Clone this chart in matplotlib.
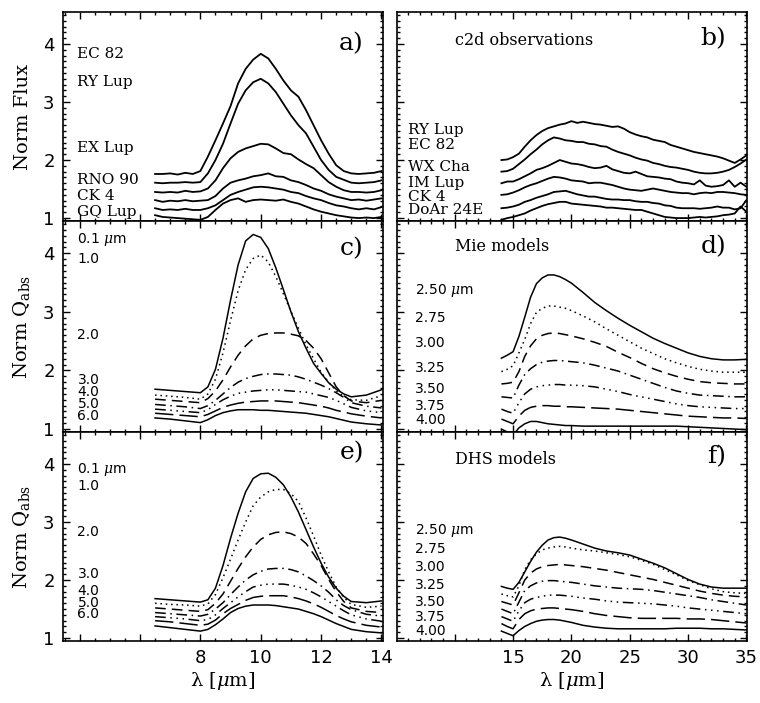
import matplotlib
matplotlib.use('Agg')
import matplotlib.pyplot as plt
from matplotlib.ticker import MultipleLocator, FuncFormatter

plt.rcParams['mathtext.fontset'] = 'dejavuserif'
plt.rcParams['axes.linewidth'] = 1.2

# ---- a) 10 micron observations (normalised flux, offset)
wl_a = [6.5, 6.75, 7.0, 7.25, 7.5, 7.75, 8.0, 8.25, 8.5, 8.75, 9.0, 9.25, 9.5, 9.75,
        10.0, 10.25, 10.5, 10.75, 11.0, 11.25, 11.5, 11.75, 12.0, 12.25, 12.5, 12.75,
        13.0, 13.25, 13.5, 13.75, 14.0]
ec82_a = [1.76, 1.76, 1.77, 1.75, 1.78, 1.76, 1.81, 2.06, 2.34, 2.63, 2.93, 3.32, 3.57, 3.73,
          3.83, 3.75, 3.57, 3.37, 3.20, 3.09, 2.86, 2.60, 2.34, 2.11, 1.91, 1.81,
          1.77, 1.76, 1.77, 1.78, 1.81]
rylup_a = [1.61, 1.60, 1.61, 1.61, 1.62, 1.61, 1.62, 1.77, 2.00, 2.28, 2.63, 2.97, 3.20, 3.34,
           3.40, 3.32, 3.17, 2.97, 2.77, 2.60, 2.46, 2.23, 2.00, 1.83, 1.71, 1.66,
           1.61, 1.60, 1.61, 1.62, 1.65]
exlup_a = [1.45, 1.44, 1.45, 1.44, 1.47, 1.45, 1.46, 1.51, 1.65, 1.86, 2.03, 2.14, 2.20, 2.24,
           2.28, 2.27, 2.20, 2.12, 2.10, 2.01, 1.93, 1.86, 1.74, 1.62, 1.54, 1.48,
           1.45, 1.45, 1.44, 1.45, 1.48]
rno90_a = [1.31, 1.28, 1.30, 1.29, 1.31, 1.29, 1.30, 1.31, 1.38, 1.51, 1.61, 1.65, 1.68, 1.72,
           1.74, 1.77, 1.72, 1.71, 1.65, 1.62, 1.57, 1.51, 1.47, 1.41, 1.37, 1.34,
           1.31, 1.32, 1.30, 1.32, 1.34]
ck4_a = [1.17, 1.14, 1.15, 1.14, 1.16, 1.14, 1.14, 1.17, 1.22, 1.31, 1.40, 1.45, 1.49, 1.53,
         1.54, 1.53, 1.51, 1.49, 1.45, 1.43, 1.38, 1.34, 1.31, 1.26, 1.22, 1.20,
         1.17, 1.15, 1.17, 1.15, 1.19]
gqlup_a = [1.05, 1.02, 1.01, 1.00, 0.99, 0.98, 0.97, 1.02, 1.14, 1.25, 1.31, 1.34, 1.28, 1.31,
           1.32, 1.31, 1.30, 1.32, 1.28, 1.25, 1.20, 1.15, 1.11, 1.08, 1.05, 1.03,
           1.01, 1.00, 1.01, 1.00, 1.02]
names_a = ['EC 82', 'RY Lup', 'EX Lup', 'RNO 90', 'CK 4', 'GQ Lup']

# ---- b) c2d 20 micron observations
wl_b = [14.0, 14.5, 15.0, 15.5, 16.0, 16.5, 17.0, 17.5, 18.0, 18.5, 19.0, 19.5, 20.0, 20.5,
        21.0, 21.5, 22.0, 22.5, 23.0, 23.5, 24.0, 24.5, 25.0, 25.5, 26.0, 26.5, 27.0, 27.5,
        28.0, 28.5, 29.0, 29.5, 30.0, 30.5, 31.0, 31.5, 32.0, 32.5, 33.0, 33.5, 34.0, 34.5, 35.0]
rylup_b = [2.00, 2.01, 2.05, 2.11, 2.23, 2.34, 2.43, 2.50, 2.55, 2.58, 2.61, 2.63, 2.67, 2.64,
           2.66, 2.64, 2.62, 2.61, 2.59, 2.57, 2.58, 2.54, 2.48, 2.44, 2.41, 2.39, 2.35, 2.33,
           2.31, 2.26, 2.23, 2.20, 2.17, 2.14, 2.12, 2.10, 2.08, 2.06, 2.03, 1.99, 1.95, 2.01, 2.08]
ec82_b = [1.80, 1.81, 1.85, 1.93, 2.01, 2.10, 2.18, 2.27, 2.34, 2.39, 2.37, 2.34, 2.33, 2.31,
          2.31, 2.28, 2.27, 2.24, 2.23, 2.18, 2.14, 2.11, 2.08, 2.04, 2.01, 1.99, 1.95, 1.93,
          1.90, 1.88, 1.87, 1.85, 1.83, 1.80, 1.78, 1.77, 1.77, 1.78, 1.80, 1.83, 1.88, 1.94, 2.01]
wxcha_b = [1.60, 1.63, 1.63, 1.67, 1.72, 1.77, 1.83, 1.86, 1.90, 1.95, 2.00, 1.97, 1.94, 1.93,
           1.91, 1.88, 1.86, 1.87, 1.90, 1.84, 1.81, 1.78, 1.77, 1.80, 1.76, 1.72, 1.71, 1.70,
           1.68, 1.67, 1.63, 1.61, 1.60, 1.58, 1.65, 1.56, 1.54, 1.55, 1.57, 1.65, 1.54, 1.61, 1.54]
imlup_b = [1.40, 1.41, 1.44, 1.48, 1.53, 1.57, 1.60, 1.64, 1.68, 1.71, 1.70, 1.68, 1.65, 1.64,
           1.63, 1.60, 1.61, 1.61, 1.59, 1.57, 1.54, 1.51, 1.49, 1.48, 1.47, 1.49, 1.51, 1.49,
           1.47, 1.45, 1.44, 1.43, 1.43, 1.41, 1.43, 1.44, 1.43, 1.45, 1.45, 1.44, 1.43, 1.41, 1.40]
ck4_b = [1.17, 1.18, 1.20, 1.23, 1.28, 1.31, 1.35, 1.38, 1.41, 1.45, 1.46, 1.47, 1.44, 1.41,
         1.39, 1.37, 1.37, 1.35, 1.33, 1.32, 1.32, 1.31, 1.31, 1.29, 1.28, 1.28, 1.26, 1.25,
         1.22, 1.21, 1.18, 1.17, 1.17, 1.17, 1.16, 1.17, 1.18, 1.20, 1.18, 1.18, 1.15, 1.17, 1.31]
doar24e_b = [0.97, 1.00, 1.02, 1.05, 1.08, 1.13, 1.17, 1.21, 1.24, 1.26, 1.28, 1.28, 1.25, 1.24,
             1.23, 1.22, 1.21, 1.20, 1.18, 1.18, 1.17, 1.16, 1.15, 1.14, 1.14, 1.11, 1.08, 1.05,
             1.02, 1.01, 1.00, 1.00, 1.00, 1.01, 1.02, 1.01, 1.02, 1.03, 1.05, 1.06, 1.08, 1.20, 1.11]
names_b = ['RY Lup', 'EC 82', 'WX Cha', 'IM Lup', 'CK 4', 'DoAr 24E']

# ---- c) / e) 10 micron models, grain sizes 0.1 ... 6.0 um
wl_c = [6.5, 7.0, 7.5, 8.0, 8.25, 8.5, 8.75, 9.0, 9.25, 9.5, 9.75, 10.0, 10.25, 10.5,
        10.75, 11.0, 11.25, 11.5, 11.75, 12.0, 12.25, 12.5, 12.75, 13.0, 13.5, 14.0]
mie10 = [
    [1.68, 1.66, 1.64, 1.62, 1.72, 2.02, 2.55, 3.20, 3.80, 4.21, 4.32, 4.27, 4.08, 3.75,
     3.38, 3.00, 2.66, 2.38, 2.12, 1.95, 1.79, 1.68, 1.60, 1.55, 1.58, 1.67],
    [1.58, 1.56, 1.54, 1.51, 1.60, 1.85, 2.30, 2.85, 3.36, 3.72, 3.91, 3.97, 3.85, 3.60,
     3.31, 3.01, 2.72, 2.44, 2.20, 1.97, 1.80, 1.65, 1.56, 1.50, 1.49, 1.57],
    [1.51, 1.49, 1.47, 1.45, 1.52, 1.65, 1.84, 2.06, 2.26, 2.42, 2.54, 2.60, 2.63, 2.64,
     2.64, 2.62, 2.59, 2.51, 2.38, 2.20, 1.96, 1.72, 1.57, 1.48, 1.45, 1.49],
    [1.42, 1.40, 1.38, 1.35, 1.40, 1.49, 1.60, 1.71, 1.80, 1.86, 1.90, 1.93, 1.94, 1.94,
     1.93, 1.92, 1.89, 1.85, 1.80, 1.75, 1.69, 1.62, 1.54, 1.45, 1.39, 1.36],
    [1.34, 1.32, 1.30, 1.28, 1.33, 1.42, 1.50, 1.56, 1.61, 1.63, 1.65, 1.66, 1.67, 1.67,
     1.66, 1.65, 1.64, 1.63, 1.60, 1.57, 1.54, 1.49, 1.43, 1.37, 1.31, 1.28],
    [1.27, 1.25, 1.23, 1.21, 1.25, 1.31, 1.37, 1.41, 1.44, 1.46, 1.47, 1.48, 1.48, 1.48,
     1.47, 1.46, 1.45, 1.43, 1.41, 1.39, 1.36, 1.32, 1.29, 1.26, 1.22, 1.19],
    [1.19, 1.17, 1.14, 1.11, 1.16, 1.23, 1.28, 1.31, 1.33, 1.33, 1.33, 1.32, 1.32, 1.31,
     1.30, 1.29, 1.28, 1.27, 1.25, 1.23, 1.21, 1.18, 1.15, 1.12, 1.09, 1.07],
]
dhs10 = [
    [1.68, 1.66, 1.64, 1.62, 1.66, 1.86, 2.25, 2.72, 3.15, 3.52, 3.75, 3.83, 3.84, 3.77,
     3.64, 3.43, 3.17, 2.87, 2.57, 2.29, 2.05, 1.86, 1.72, 1.63, 1.61, 1.64],
    [1.60, 1.58, 1.57, 1.55, 1.59, 1.75, 2.04, 2.36, 2.69, 3.00, 3.28, 3.43, 3.52, 3.56,
     3.56, 3.49, 3.35, 3.07, 2.76, 2.43, 2.14, 1.88, 1.70, 1.58, 1.53, 1.55],
    [1.52, 1.50, 1.48, 1.46, 1.49, 1.60, 1.76, 1.98, 2.20, 2.40, 2.57, 2.70, 2.78, 2.82,
     2.83, 2.80, 2.74, 2.63, 2.45, 2.25, 2.01, 1.80, 1.63, 1.52, 1.46, 1.44],
    [1.44, 1.42, 1.40, 1.38, 1.41, 1.50, 1.61, 1.75, 1.88, 2.00, 2.09, 2.15, 2.19, 2.20,
     2.20, 2.18, 2.14, 2.07, 1.99, 1.90, 1.79, 1.66, 1.56, 1.49, 1.41, 1.38],
    [1.37, 1.35, 1.33, 1.30, 1.32, 1.40, 1.51, 1.61, 1.71, 1.80, 1.88, 1.91, 1.93, 1.93,
     1.93, 1.91, 1.88, 1.84, 1.78, 1.71, 1.63, 1.55, 1.47, 1.40, 1.33, 1.29],
    [1.30, 1.28, 1.25, 1.22, 1.24, 1.31, 1.42, 1.51, 1.58, 1.65, 1.70, 1.72, 1.73, 1.73,
     1.73, 1.71, 1.68, 1.64, 1.59, 1.53, 1.46, 1.39, 1.33, 1.28, 1.22, 1.19],
    [1.21, 1.18, 1.15, 1.12, 1.15, 1.23, 1.33, 1.44, 1.51, 1.55, 1.57, 1.57, 1.57, 1.56,
     1.54, 1.52, 1.50, 1.46, 1.42, 1.37, 1.31, 1.25, 1.20, 1.15, 1.11, 1.09],
]
sizes10 = ['0.1 $\\mu$m', '1.0', '2.0', '3.0', '4.0', '5.0', '6.0']

# ---- d) / f) 20 micron models, grain sizes 2.50 ... 4.00 um
wl_d = [14.0, 14.5, 15.0, 15.5, 16.0, 16.5, 17.0, 17.5, 18.0, 18.5, 19.0, 19.5, 20.0, 21.0,
        22.0, 23.0, 24.0, 25.0, 26.0, 27.0, 28.0, 29.0, 30.0, 31.0, 32.0, 33.0, 34.0, 35.0]
mie20 = [
    [2.21, 2.26, 2.32, 2.58, 2.91, 3.25, 3.48, 3.58, 3.63, 3.63, 3.60, 3.55, 3.49, 3.33,
     3.16, 3.02, 2.89, 2.77, 2.66, 2.55, 2.46, 2.38, 2.30, 2.24, 2.20, 2.18, 2.18, 2.19],
    [1.98, 2.02, 2.08, 2.30, 2.53, 2.80, 2.99, 3.06, 3.10, 3.10, 3.08, 3.06, 3.02, 2.93,
     2.83, 2.71, 2.60, 2.49, 2.38, 2.29, 2.20, 2.13, 2.07, 2.02, 1.99, 1.97, 1.97, 1.97],
    [1.77, 1.78, 1.80, 1.98, 2.24, 2.42, 2.54, 2.60, 2.63, 2.64, 2.63, 2.61, 2.59, 2.54,
     2.48, 2.41, 2.31, 2.22, 2.12, 2.03, 1.96, 1.90, 1.85, 1.81, 1.79, 1.78, 1.77, 1.77],
    [1.55, 1.54, 1.53, 1.75, 1.93, 2.03, 2.10, 2.14, 2.16, 2.17, 2.17, 2.16, 2.15, 2.13,
     2.09, 2.04, 1.99, 1.92, 1.85, 1.78, 1.71, 1.65, 1.61, 1.58, 1.57, 1.56, 1.55, 1.55],
    [1.34, 1.30, 1.27, 1.45, 1.60, 1.68, 1.72, 1.74, 1.75, 1.76, 1.76, 1.75, 1.75, 1.74,
     1.72, 1.68, 1.64, 1.59, 1.55, 1.51, 1.47, 1.43, 1.40, 1.38, 1.37, 1.36, 1.35, 1.35],
    [1.17, 1.13, 1.09, 1.22, 1.32, 1.37, 1.39, 1.40, 1.40, 1.39, 1.39, 1.38, 1.38, 1.37,
     1.36, 1.35, 1.34, 1.32, 1.30, 1.28, 1.26, 1.24, 1.22, 1.21, 1.20, 1.19, 1.19, 1.18],
    [1.00, 0.95, 0.90, 1.02, 1.09, 1.13, 1.13, 1.11, 1.09, 1.08, 1.07, 1.06, 1.06, 1.05,
     1.05, 1.05, 1.05, 1.05, 1.05, 1.05, 1.05, 1.05, 1.04, 1.03, 1.02, 1.01, 1.00, 0.99],
]
dhs20 = [
    [1.89, 1.86, 1.84, 1.96, 2.14, 2.32, 2.48, 2.60, 2.69, 2.73, 2.74, 2.72, 2.69, 2.62,
     2.55, 2.50, 2.47, 2.43, 2.36, 2.29, 2.21, 2.11, 2.01, 1.93, 1.88, 1.86, 1.86, 1.86],
    [1.76, 1.73, 1.71, 1.90, 2.18, 2.35, 2.45, 2.52, 2.55, 2.57, 2.58, 2.57, 2.55, 2.52,
     2.50, 2.47, 2.44, 2.40, 2.34, 2.27, 2.18, 2.09, 1.99, 1.92, 1.85, 1.80, 1.78, 1.77],
    [1.63, 1.60, 1.57, 1.78, 2.00, 2.12, 2.19, 2.23, 2.25, 2.26, 2.27, 2.26, 2.25, 2.23,
     2.20, 2.17, 2.13, 2.09, 2.05, 2.01, 1.96, 1.91, 1.86, 1.81, 1.77, 1.74, 1.72, 1.71],
    [1.50, 1.46, 1.42, 1.62, 1.82, 1.90, 1.95, 1.98, 1.99, 1.99, 1.98, 1.97, 1.96, 1.93,
     1.90, 1.88, 1.86, 1.85, 1.84, 1.82, 1.79, 1.76, 1.73, 1.70, 1.66, 1.63, 1.60, 1.57],
    [1.37, 1.33, 1.29, 1.47, 1.61, 1.67, 1.70, 1.72, 1.74, 1.74, 1.74, 1.73, 1.72, 1.69,
     1.67, 1.64, 1.62, 1.61, 1.60, 1.59, 1.57, 1.55, 1.52, 1.50, 1.48, 1.46, 1.44, 1.42],
    [1.25, 1.20, 1.16, 1.32, 1.42, 1.47, 1.50, 1.51, 1.52, 1.52, 1.51, 1.50, 1.49, 1.46,
     1.42, 1.39, 1.37, 1.35, 1.34, 1.34, 1.34, 1.34, 1.33, 1.33, 1.32, 1.30, 1.28, 1.26],
    [1.12, 1.08, 1.04, 1.13, 1.20, 1.25, 1.29, 1.31, 1.32, 1.32, 1.31, 1.29, 1.27, 1.22,
     1.19, 1.17, 1.16, 1.16, 1.16, 1.16, 1.16, 1.17, 1.17, 1.17, 1.16, 1.16, 1.15, 1.14],
]
sizes20 = ['2.50 $\\mu$m', '2.75', '3.00', '3.25', '3.50', '3.75', '4.00']

# IDL style linestyles: solid, dotted, dashed, dash-dot, dash-dot-dot-dot, long dash, solid
styles = ['-', (0, (1, 2.5)), (0, (7, 4)), (0, (7, 3, 1, 3)),
          (0, (7, 3, 1, 3, 1, 3, 1, 3)), (0, (12, 4)), '-']

SERIF = 'DejaVu Serif'
SANS = 'DejaVu Sans'

fig = plt.figure(figsize=(7.6, 7.03), dpi=100)
fig.patch.set_facecolor('white')

col_x = [63 / 760, 397 / 760]
col_w = [320 / 760, 350 / 760]
rows = [(12, 221), (221, 432), (432, 641)]


def make_ax(row, col):
    top, bot = rows[row]
    ax = fig.add_axes([col_x[col], 1 - bot / 703, col_w[col], (bot - top) / 703])
    ax.set_ylim(0.95, 4.55)
    ax.yaxis.set_major_locator(MultipleLocator(1))
    ax.yaxis.set_minor_locator(MultipleLocator(0.1))
    if col == 0:
        ax.set_xlim(3.45, 14.05)
        ax.xaxis.set_major_locator(MultipleLocator(2))
        ax.xaxis.set_minor_locator(MultipleLocator(0.5))
        lo = 8
    else:
        ax.set_xlim(5.05, 35.05)
        ax.xaxis.set_major_locator(MultipleLocator(5))
        ax.xaxis.set_minor_locator(MultipleLocator(1))
        lo = 15
    ax.tick_params(which='both', direction='in', top=True, right=True, width=1.0,
                   labelsize=13, pad=6)
    ax.tick_params(which='major', length=5)
    ax.tick_params(which='minor', length=2.5)
    if row == 2:
        ax.xaxis.set_major_formatter(FuncFormatter(lambda v, p: f'{v:g}' if v >= lo - 0.01 else ''))
        ax.set_xlabel('λ [' + r'$\mu$' + 'm]', fontsize=14, family=SERIF, labelpad=2)
    else:
        ax.tick_params(labelbottom=False)
    if col == 1:
        ax.tick_params(labelleft=False)
    for lab in ax.get_xticklabels() + ax.get_yticklabels():
        lab.set_family(SANS)
    return ax


def letter(ax, s, yf):
    ax.text(0.94, yf, s, transform=ax.transAxes, ha='right', va='center',
            fontsize=18, family=SERIF)


# a)
ax = make_ax(0, 0)
for y in [ec82_a, rylup_a, exlup_a, rno90_a, ck4_a, gqlup_a]:
    ax.plot(wl_a, y, color='black', lw=1.3)
for name, yy in zip(names_a, [3.83, 3.34, 2.20, 1.66, 1.38, 1.10]):
    ax.text(3.93, yy, name, ha='left', va='center', fontsize=11, family=SERIF)
ax.set_ylabel('Norm Flux', fontsize=14, family=SERIF, labelpad=8)
letter(ax, 'a)', 0.85)

# b)
ax = make_ax(0, 1)
for y in [rylup_b, ec82_b, wxcha_b, imlup_b, ck4_b, doar24e_b]:
    ax.plot(wl_b, y, color='black', lw=1.3)
for name, yy in zip(names_b, [2.51, 2.26, 1.88, 1.60, 1.37, 1.14]):
    ax.text(6.0, yy, name, ha='left', va='center', fontsize=11, family=SERIF)
ax.text(10.0, 4.06, 'c2d observations', ha='left', va='center', fontsize=11.5, family=SERIF)
letter(ax, 'b)', 0.87)

# c), e)
for row, models, ypos, lab in [(1, mie10, [4.23, 3.91, 2.61, 1.84, 1.63, 1.43, 1.23], 'c)'),
                               (2, dhs10, [3.91, 3.62, 2.83, 2.10, 1.81, 1.61, 1.41], 'e)')]:
    ax = make_ax(row, 0)
    for y, ls in zip(models, styles):
        ax.plot(wl_c, y, color='black', lw=1.1, linestyle=ls)
    for s, yy in zip(sizes10, ypos):
        ax.text(3.93, yy, s, ha='left', va='center', fontsize=10, family=SANS)
    ax.set_ylabel(r'Norm Q$_{\rm abs}$', fontsize=14, family=SERIF, labelpad=8)
    letter(ax, lab, 0.87 if row == 1 else 0.90)

# d), f)
for row, models, ypos, title, lab in [
        (1, mie20, [3.36, 2.90, 2.46, 2.04, 1.68, 1.39, 1.15], 'Mie models', 'd)'),
        (2, dhs20, [2.85, 2.54, 2.23, 1.91, 1.63, 1.37, 1.13], 'DHS models', 'f)')]:
    ax = make_ax(row, 1)
    for y, ls in zip(models, styles):
        ax.plot(wl_d, y, color='black', lw=1.1, linestyle=ls)
    for s, yy in zip(sizes20, ypos):
        ax.text(6.6, yy, s, ha='left', va='center', fontsize=10, family=SANS)
    ax.text(10.0, 4.12 if row == 1 else 4.08, title, ha='left', va='center',
            fontsize=11.5, family=SERIF)
    letter(ax, lab, 0.88)

fig.savefig('out.png', dpi=100, facecolor='white')
